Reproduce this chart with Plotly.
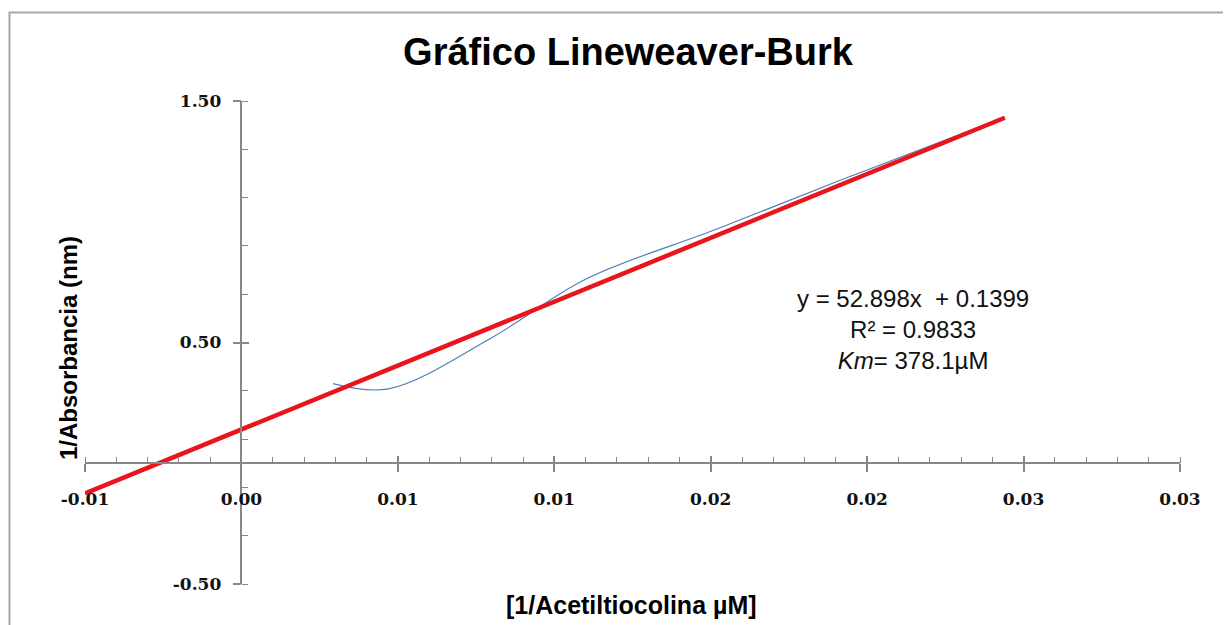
import plotly.graph_objects as go

# ---------------- data ----------------
title_text = "Gráfico Lineweaver-Burk"
x_title = "[1/Acetiltiocolina µM]"
y_title = "1/Absorbancia (nm)"

inv_substrate = [0.00293, 0.0047, 0.0080, 0.0110, 0.0152, 0.0192, 0.0244]
inv_absorbance = [0.330, 0.308, 0.520, 0.762, 0.970, 1.175, 1.432]

slope = 52.898
intercept = 0.1399
r_squared = 0.9833
km_value = 378.1
trend_x = [-0.005, 0.0244]
trend_y = [slope * x + intercept for x in trend_x]

x_tickvals = [-0.005, 0.0, 0.005, 0.01, 0.015, 0.02, 0.025, 0.03]
x_ticktext = ["-0.01", "0.00", "0.01", "0.01", "0.02", "0.02", "0.03", "0.03"]
y_tickvals = [-0.5, 0.5, 1.5]
y_ticktext = ["-0.50", "0.50", "1.50"]

x_range = [-0.005, 0.03]
y_range = [-0.5, 1.5]

# ---------------- figure ----------------
AX = "#878787"
OFF = 8  # page body margin
W, H = 1223, 617
ML, MT = 77, 93
PW, PH = 1095, 483
MR, MB = W - ML - PW, H - MT - PH


def px_x(px):
    """page pixel x -> paper coordinate"""
    return (px - OFF - ML) / PW


def px_y(py):
    """page pixel y -> paper coordinate"""
    return (MT + PH - (py - OFF)) / PH


x_pos = (0 - y_range[0]) / (y_range[1] - y_range[0])  # where y = 0
y_pos = (0 - x_range[0]) / (x_range[1] - x_range[0])  # where x = 0

fig = go.Figure()

fig.add_trace(go.Scatter(
    x=inv_substrate, y=inv_absorbance, mode="lines",
    line=dict(color="#4f7fb8", width=1.2, shape="spline", smoothing=1.0),
    xaxis="x", yaxis="y", hoverinfo="skip", showlegend=False))

fig.add_trace(go.Scatter(
    x=trend_x, y=trend_y, mode="lines",
    line=dict(color="#e8161c", width=4.5),
    xaxis="x2", yaxis="y2", hoverinfo="skip", showlegend=False))

tick_font = dict(family="DejaVu Serif", size=17, color="#111111", weight="bold")

fig.update_layout(
    width=W, height=H,
    margin=dict(l=ML, r=MR, t=MT, b=MB),
    paper_bgcolor="white", plot_bgcolor="white",
    showlegend=False,
    title=dict(text=title_text, x=(628 - OFF) / W, xref="container", xanchor="center",
               y=1 - (52 - OFF) / H, yref="container", yanchor="middle",
               font=dict(family="Liberation Sans", size=38, color="#000000", weight="bold")),
    xaxis=dict(range=x_range, anchor="free", position=x_pos,
               showgrid=False, zeroline=False,
               showline=True, linecolor=AX, linewidth=1.5,
               tickmode="array", tickvals=x_tickvals, ticktext=x_ticktext,
               ticks="outside", ticklen=8, tickwidth=1.5, tickcolor=AX,
               ticklabelstandoff=13, tickfont=tick_font,
               minor=dict(ticks="inside", ticklen=6, tickwidth=1, tickcolor=AX,
                          tickmode="linear", tick0=0, dtick=0.001, showgrid=False)),
    yaxis=dict(range=y_range, anchor="free", position=y_pos,
               showgrid=False, zeroline=False,
               showline=True, linecolor=AX, linewidth=1.5,
               tickmode="array", tickvals=y_tickvals, ticktext=y_ticktext,
               ticks="outside", ticklen=8, tickwidth=1.5, tickcolor=AX,
               ticklabelstandoff=8, tickfont=tick_font,
               minor=dict(ticks="inside", ticklen=6, tickwidth=1, tickcolor=AX,
                          tickmode="linear", tick0=-0.5, dtick=0.2, showgrid=False)),
    xaxis2=dict(range=x_range, matches="x", overlaying="x", anchor="free", position=x_pos,
                showgrid=False, zeroline=False, showline=False, showticklabels=False,
                tickmode="array", tickvals=x_tickvals,
                ticks="inside", ticklen=7, tickwidth=1.5, tickcolor=AX),
    yaxis2=dict(range=y_range, matches="y", overlaying="y", anchor="free", position=y_pos,
                showgrid=False, zeroline=False, showline=False, showticklabels=False,
                tickmode="array", tickvals=y_tickvals,
                ticks="inside", ticklen=7, tickwidth=1.5, tickcolor=AX),
)

fig.add_annotation(text=x_title, xref="paper", yref="paper",
                   x=px_x(631), y=px_y(605), xanchor="center", yanchor="middle",
                   showarrow=False,
                   font=dict(family="Liberation Sans", size=25, color="#000000", weight="bold"))
fig.add_annotation(text=y_title, xref="paper", yref="paper", textangle=-90,
                   x=px_x(68), y=px_y(348), xanchor="center", yanchor="middle",
                   showarrow=False,
                   font=dict(family="Liberation Sans", size=24, color="#000000", weight="bold"))

eq_text = (f"y = {slope}x  + {intercept}<br>R² = {r_squared}<br>"
           f"<i>Km</i>= {km_value}µM")
fig.add_annotation(text=eq_text, xref="paper", yref="paper",
                   x=px_x(913), y=px_y(329), xanchor="center", yanchor="middle",
                   align="center", showarrow=False,
                   font=dict(family="Liberation Sans", size=24, color="#111111"))

# outer chart border (right and bottom edges fall outside the visible window)
fig.add_shape(type="rect", xref="paper", yref="paper",
              x0=px_x(9.5), x1=px_x(1240), y0=px_y(640), y1=px_y(12.5),
              line=dict(color="#a6a6a6", width=2), fillcolor="rgba(0,0,0,0)", layer="below")

fig.write_html("out.html")
